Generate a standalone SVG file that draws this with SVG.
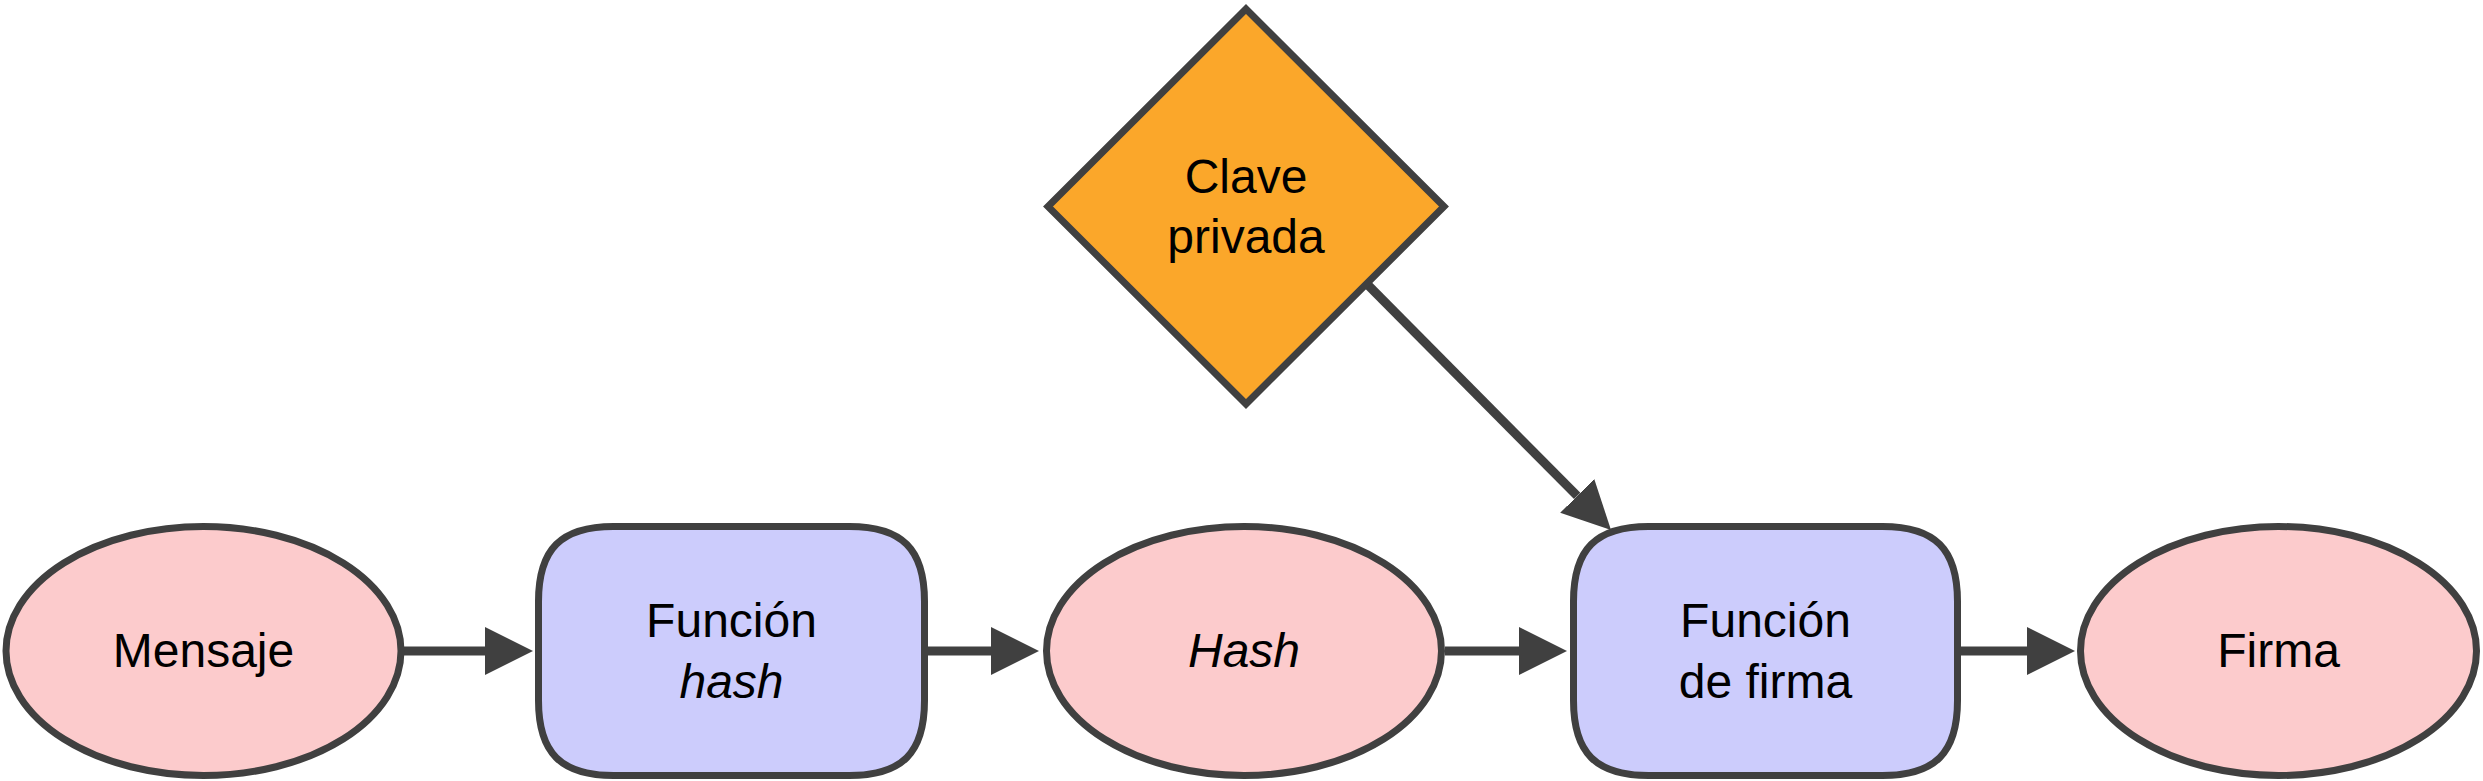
<svg xmlns="http://www.w3.org/2000/svg" width="2483" height="781" viewBox="0 0 2483 781">
<style>
.ell{fill:#FCCBCC;stroke:#404040;stroke-width:7}
.box{fill:#CCCCFC;stroke:#404040;stroke-width:7}
.dia{fill:#FBA72A;stroke:#404040;stroke-width:7;stroke-linejoin:miter}
.lbl{font-family:"Liberation Sans",Arial,sans-serif;font-size:48px;fill:#000;text-anchor:middle}
.it{font-style:italic}
.con{stroke:#404040;stroke-width:9;fill:none}
</style>
<defs>
<marker id="ah" viewBox="0 0 48 48" refX="0" refY="24" markerWidth="48" markerHeight="48" markerUnits="userSpaceOnUse" orient="auto">
<path d="M0,0 L48,24 L0,48 Z" fill="#404040"/>
</marker>
</defs>
<rect width="2483" height="781" fill="#fff"/>
<g id="connectors">
<line class="con" x1="404" y1="651" x2="485" y2="651" marker-end="url(#ah)"/>
<line class="con" x1="928" y1="651" x2="991" y2="651" marker-end="url(#ah)"/>
<line class="con" x1="1445" y1="651" x2="1519" y2="651" marker-end="url(#ah)"/>
<line class="con" x1="1961" y1="651" x2="2027" y2="651" marker-end="url(#ah)"/>
<line class="con" x1="1362" y1="279" x2="1577.2" y2="495.9" marker-end="url(#ah)"/>
</g>
<g id="mensaje">
<ellipse class="ell" cx="203.5" cy="651" rx="197.5" ry="124.5"/>
<text class="lbl" x="203.5" y="667">Mensaje</text>
</g>
<g id="funcion-hash">
<path class="box" d="M613.5,526.5 H849.5 C902,526.5 924.5,549 924.5,601.5 V700.5 C924.5,753 902,775.5 849.5,775.5 H613.5 C561,775.5 538.5,753 538.5,700.5 V601.5 C538.5,549 561,526.5 613.5,526.5 Z"/>
<text class="lbl" x="731.5" y="637">Función</text>
<text class="lbl it" x="731.5" y="698">hash</text>
</g>
<g id="hash">
<ellipse class="ell" cx="1244" cy="651" rx="197.5" ry="124.5"/>
<text class="lbl it" x="1244" y="667">Hash</text>
</g>
<g id="clave-privada">
<polygon class="dia" points="1246,9 1444,206.5 1246,404 1048,206.5"/>
<text class="lbl" x="1246" y="193">Clave</text>
<text class="lbl" x="1246" y="253">privada</text>
</g>
<g id="funcion-firma">
<path class="box" d="M1648.5,526.5 H1882.5 C1935,526.5 1957.5,549 1957.5,601.5 V700.5 C1957.5,753 1935,775.5 1882.5,775.5 H1648.5 C1596,775.5 1573.5,753 1573.5,700.5 V601.5 C1573.5,549 1596,526.5 1648.5,526.5 Z"/>
<text class="lbl" x="1765.5" y="637">Función</text>
<text class="lbl" x="1765.5" y="698">de firma</text>
</g>
<g id="firma">
<ellipse class="ell" cx="2278.5" cy="651" rx="198" ry="124.5"/>
<text class="lbl" x="2278.5" y="667">Firma</text>
</g>
</svg>
